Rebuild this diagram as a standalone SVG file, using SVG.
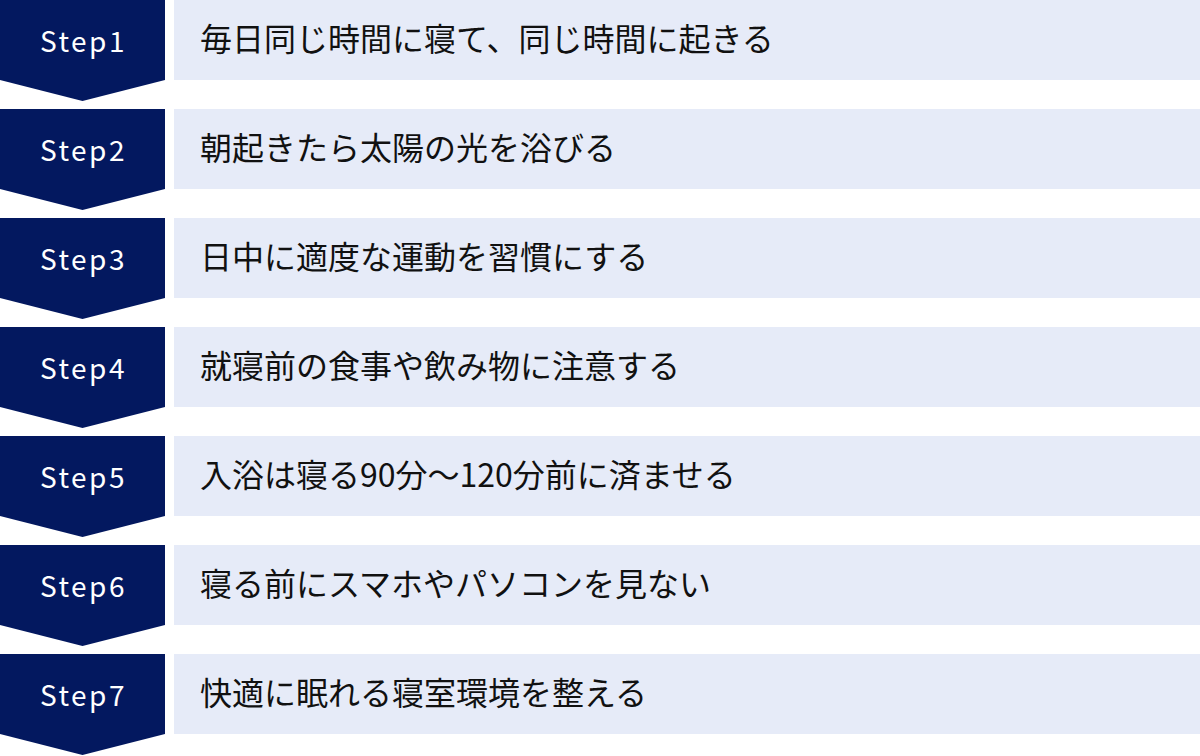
<svg xmlns="http://www.w3.org/2000/svg" width="1200" height="756" viewBox="0 0 1200 756">
<defs>
<style>
.chev{fill:#03185f}
.box{fill:#e6ebf8}
.lbl{font-family:"Noto Sans CJK JP","Noto Sans",sans-serif;font-size:28px;font-weight:400;fill:#ffffff;letter-spacing:2.5px;text-anchor:middle}
.txt{font-family:"Noto Sans CJK JP","Noto Sans",sans-serif;font-size:32px;fill:#111111}
</style>
<path id="chevShape" d="M0 0H165V80L82.5 101L0 80Z"/>
</defs>
<rect width="1200" height="756" fill="#ffffff"/>
<g id="step1" transform="translate(0,0)"><use href="#chevShape" class="chev"/><rect class="box" x="174" y="0" width="1026" height="80"/><text class="lbl" x="83.5" y="52">Step1</text><text class="txt" x="200" y="51">毎日同じ時間に寝て、同じ時間に起きる</text></g>
<g id="step2" transform="translate(0,109)"><use href="#chevShape" class="chev"/><rect class="box" x="174" y="0" width="1026" height="80"/><text class="lbl" x="83.5" y="52">Step2</text><text class="txt" x="200" y="51">朝起きたら太陽の光を浴びる</text></g>
<g id="step3" transform="translate(0,218)"><use href="#chevShape" class="chev"/><rect class="box" x="174" y="0" width="1026" height="80"/><text class="lbl" x="83.5" y="52">Step3</text><text class="txt" x="200" y="51">日中に適度な運動を習慣にする</text></g>
<g id="step4" transform="translate(0,327)"><use href="#chevShape" class="chev"/><rect class="box" x="174" y="0" width="1026" height="80"/><text class="lbl" x="83.5" y="52">Step4</text><text class="txt" x="200" y="51">就寝前の食事や飲み物に注意する</text></g>
<g id="step5" transform="translate(0,436)"><use href="#chevShape" class="chev"/><rect class="box" x="174" y="0" width="1026" height="80"/><text class="lbl" x="83.5" y="52">Step5</text><text class="txt" x="200" y="51">入浴は寝る90分～120分前に済ませる</text></g>
<g id="step6" transform="translate(0,545)"><use href="#chevShape" class="chev"/><rect class="box" x="174" y="0" width="1026" height="80"/><text class="lbl" x="83.5" y="52">Step6</text><text class="txt" x="200" y="51">寝る前にスマホやパソコンを見ない</text></g>
<g id="step7" transform="translate(0,654)"><use href="#chevShape" class="chev"/><rect class="box" x="174" y="0" width="1026" height="80"/><text class="lbl" x="83.5" y="52">Step7</text><text class="txt" x="200" y="51">快適に眠れる寝室環境を整える</text></g>
</svg>
